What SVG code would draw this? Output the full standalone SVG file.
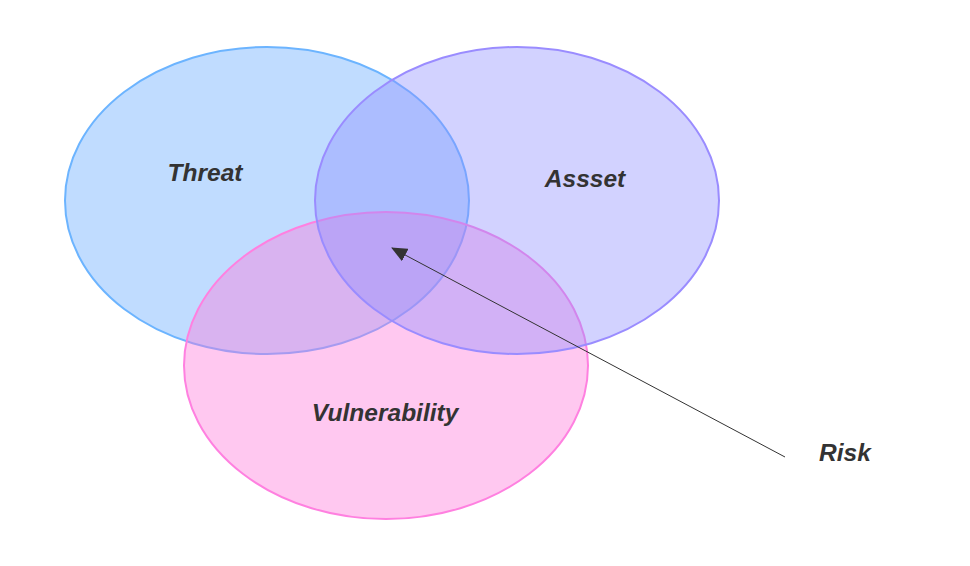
<svg xmlns="http://www.w3.org/2000/svg" width="970" height="566" viewBox="0 0 970 566">
<style>
.lbl{font-family:"Liberation Sans",Arial,sans-serif;font-size:24.5px;font-weight:bold;font-style:italic;fill:#333;text-anchor:middle;dominant-baseline:central}
.c{stroke-width:2}
</style>
<defs>
<marker id="ah" viewBox="0 0 16 14" refX="15" refY="7" markerWidth="16" markerHeight="14" markerUnits="userSpaceOnUse" orient="auto">
<path d="M0,0 L16,7 L0,14 Z" fill="#333"/>
</marker>
</defs>
<rect width="970" height="566" fill="#fff"/>
<g id="threat">
<ellipse class="c" cx="267" cy="200.5" rx="202" ry="153.5" fill="#62a8ff" fill-opacity="0.4" stroke="#6cb4ff"/>
</g>
<g id="vulnerability">
<ellipse class="c" cx="386" cy="365.5" rx="202" ry="153.5" fill="#ff76da" fill-opacity="0.4" stroke="#ff80e0"/>
</g>
<g id="asset">
<ellipse class="c" cx="517" cy="200.5" rx="202" ry="153.5" fill="#8e8eff" fill-opacity="0.4" stroke="#9a8cff"/>
</g>
<g id="labels">
<text class="lbl" x="205" y="172">Threat</text>
<text class="lbl" x="585" y="178">Assset</text>
<text class="lbl" x="385" y="412">Vulnerability</text>
<text class="lbl" x="845" y="452">Risk</text>
</g>
<g id="connectors">
<line x1="785" y1="457" x2="392" y2="248" stroke="#333" stroke-width="1" marker-end="url(#ah)"/>
</g>
</svg>
